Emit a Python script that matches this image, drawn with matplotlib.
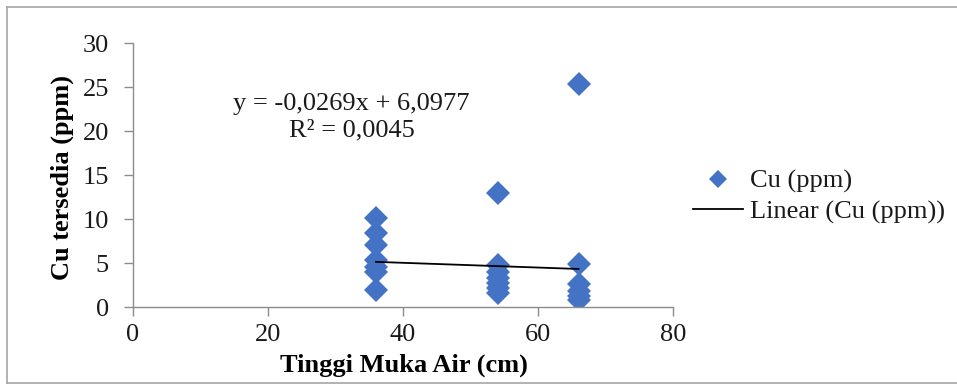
import matplotlib
matplotlib.use('Agg')
import matplotlib.pyplot as plt
from matplotlib.lines import Line2D

plt.rcParams['font.family'] = ['Liberation Serif', 'DejaVu Serif']

# water table height (cm) and available Cu (ppm)
tma_36 = [36, 36, 36, 36, 36, 36, 36]
cu_36 = [10.1, 8.4, 7.0, 5.3, 4.6, 4.0, 1.9]
tma_54 = [54, 54, 54, 54, 54, 54, 54]
cu_54 = [13.0, 4.8, 4.0, 3.3, 2.7, 2.2, 1.6]
tma_66 = [66, 66, 66, 66, 66, 66]
cu_66 = [25.3, 4.9, 2.6, 1.8, 1.2, 0.8]

slope = -0.0269
intercept = 6.0977
r2 = 0.0045

x_ticks = [0, 20, 40, 60, 80]
y_ticks = [0, 5, 10, 15, 20, 25, 30]

x_all = tma_36 + tma_54 + tma_66
cu_all = cu_36 + cu_54 + cu_66

blue = '#4472C4'
grey = '#8c8c8c'
fs = 19

fig = plt.figure(figsize=(9.57, 3.85), dpi=100)
ax = fig.add_axes([133 / 957, 1 - 307 / 385, 540 / 957, 264 / 385])

ax.plot(x_all, cu_all, linestyle='none', marker='D', markersize=12,
        markeredgewidth=0, color=blue, label='Cu (ppm)', zorder=2)

x_fit = [min(x_all), max(x_all)]
y_fit = [slope * v + intercept for v in x_fit]
ax.plot(x_fit, y_fit, color='black', linewidth=1.3, label='Linear (Cu (ppm))', zorder=3)

ax.set_xlim(0, 80)
ax.set_ylim(0, 30)
ax.set_xticks(x_ticks)
ax.set_yticks(y_ticks)

for side in ['top', 'right']:
    ax.spines[side].set_visible(False)
for side in ['left', 'bottom']:
    ax.spines[side].set_color(grey)
    ax.spines[side].set_linewidth(1.0)

ax.tick_params(axis='y', direction='out', length=6.5, width=1, color=grey,
               labelsize=fs, labelcolor='#1a1a1a', pad=10.8)
ax.tick_params(axis='x', direction='out', length=6.5, width=1, color=grey,
               labelsize=fs, labelcolor='#1a1a1a', pad=6)

eq = '{} = {}x + {}\nR² = {}'.format(
    'y', f'{slope:.4f}'.replace('.', ','), f'{intercept:.4f}'.replace('.', ','),
    f'{r2:.4f}'.replace('.', ','))
ax.text(32.4, 21.6, eq, fontsize=fs, ha='center', va='center',
        multialignment='center', linespacing=1.28, color='#1a1a1a')

fig.text(62 / 957, 1 - 178 / 385, 'Cu tersedia (ppm)', rotation=90,
         fontsize=fs, fontweight='bold', ha='center', va='center')
fig.text(404 / 957, 1 - 365 / 385, 'Tinggi Muka Air (cm)',
         fontsize=fs, fontweight='bold', ha='center', va='center')

leg = fig.legend(loc='center left', bbox_to_anchor=(693 / 957, 1 - 196.5 / 385),
                 frameon=False, fontsize=fs, handlelength=1.9, handletextpad=0.27,
                 labelspacing=0.25, borderpad=0, borderaxespad=0, markerscale=0.8)
for t in leg.get_texts():
    t.set_color('#1a1a1a')

# outer frame of the chart area
frame = '#a6a6a6'
fig.add_artist(Line2D([7 / 957, 1], [1 - 7 / 385, 1 - 7 / 385], color=frame, lw=1.2))
fig.add_artist(Line2D([7 / 957, 7 / 957], [1 - 7 / 385, 1 - 383 / 385], color=frame, lw=1.2))
fig.add_artist(Line2D([7 / 957, 1], [1 - 383 / 385, 1 - 383 / 385], color=frame, lw=1.2))

fig.savefig('out.png', dpi=100)
